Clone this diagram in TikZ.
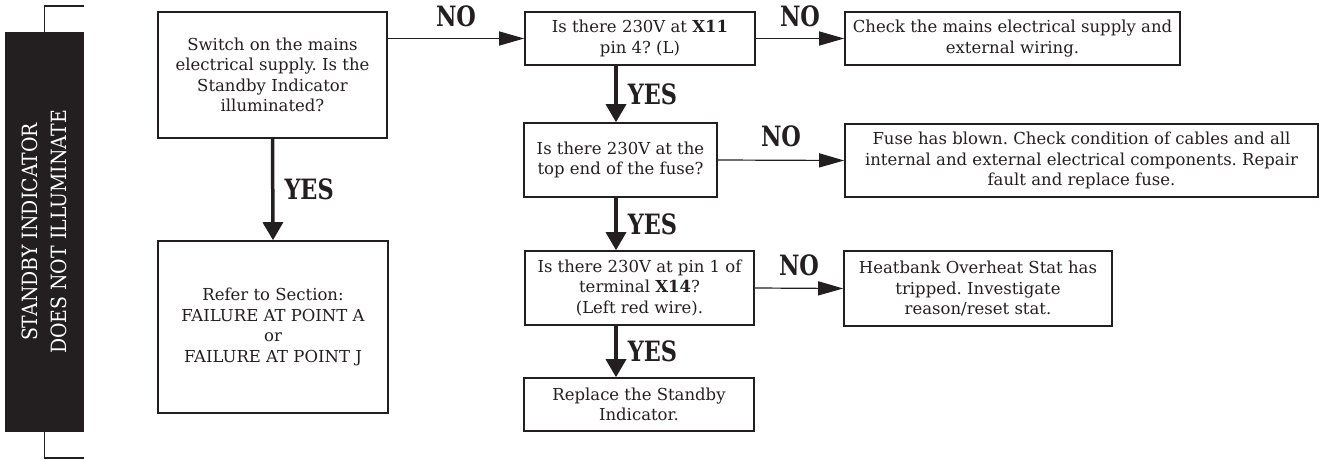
\documentclass[tikz,border=0pt]{standalone}
\usepackage{fontspec}
\setmainfont{DejaVu Serif}
\newfontfamily\answerfont[FakeStretch=0.8]{DejaVu Serif Bold}
\newfontfamily\sidefont[FakeStretch=0.9]{DejaVu Serif}
\usetikzlibrary{arrows.meta}
\definecolor{ink}{RGB}{35,31,32}
\frenchspacing

\begin{document}
\begin{tikzpicture}[x=1pt, y=-1pt, color=ink,
    box/.style={draw, line width=1.6pt, align=center, inner sep=2pt,
        font=\fontsize{16.5}{20.5}\selectfont},
    answer/.style={font=\answerfont\fontsize{28}{28}\selectfont, inner sep=0pt},
    noline/.style={line width=1.2pt, -{Triangle[length=25pt, width=14pt]}},
    yesline/.style={line width=3.5pt, -{Triangle[length=18pt, width=20pt]}}]
    \useasboundingbox (0,0) rectangle (1320,460);
    % Side bar
    \node[fill=ink, minimum width=79pt, minimum height=400pt, inner sep=0pt] (side) at (44.5,232) {};
    \node[rotate=90, text=white, align=center, font=\sidefont\fontsize{21}{29}\selectfont] (sidelabel) at (side.center) {STANDBY INDICATOR\\DOES NOT ILLUMINATE};
    \coordinate (topend) at (84,6);
    \coordinate (bottomend) at (84,458);
    \draw[line width=1.3pt] (side.north) |- (topend);
    \draw[line width=1.3pt] (side.south) |- (bottomend);
    % Nodes
    \node[box, minimum width=229pt, minimum height=126pt] (start) at (272.5,75) {Switch on the mains\\electrical supply. Is the\\Standby Indicator\\illuminated?};
    \node[box, minimum width=230pt, minimum height=172pt] (refer) at (273,327) {Refer to Section:\\FAILURE AT POINT A\\or\\FAILURE AT POINT J};
    \node[box, minimum width=230pt, minimum height=53pt] (q1) at (640,38.5) {Is there 230V at \textbf{X11}\\pin 4? (L)};
    \node[box, minimum width=335pt, minimum height=53pt] (mains) at (1012.5,38.5) {Check the mains electrical supply and\\external wiring.};
    \node[box, minimum width=193pt, minimum height=74pt] (q2) at (620.5,160) {Is there 230V at the\\top end of the fuse?};
    \node[box, minimum width=473pt, minimum height=73pt] (fuse) at (1081.5,160.5) {Fuse has blown. Check condition of cables and all\\internal and external electrical components. Repair\\fault and replace fuse.};
    \node[box, minimum width=229pt, minimum height=74pt] (q3) at (639.5,288) {Is there 230V at pin 1 of\\terminal \textbf{X14}?\\(Left red wire).};
    \node[box, minimum width=268pt, minimum height=75pt] (heat) at (978,288.5) {Heatbank Overheat Stat has\\tripped. Investigate\\reason/reset stat.};
    \node[box, minimum width=230pt, minimum height=53pt] (replace) at (639,404.5) {Replace the Standby\\Indicator.};
    \coordinate (spine) at (616,0);
    % Edges
    \draw[noline] (start.east |- q1.west) -- node[answer, above=11pt] {NO} (q1.west);
    \draw[yesline] (start.south) -- node[answer, right=10pt] {YES} (refer.north);
    \draw[noline] (q1.east) -- node[answer, above=11pt] {NO} (mains.west);
    \draw[yesline] (q1.south -| spine) -- node[answer, right=10pt] {YES} (q2.north -| spine);
    \draw[noline] (q2.east) -- node[answer, above=13pt] {NO} (fuse.west);
    \draw[yesline] (q2.south -| spine) -- node[answer, right=10pt] {YES} (q3.north -| spine);
    \draw[noline] (q3.east) -- node[answer, above=12pt] {NO} (heat.west);
    \draw[yesline] (q3.south -| spine) -- node[answer, right=10pt] {YES} (replace.north -| spine);
\end{tikzpicture}
\end{document}
